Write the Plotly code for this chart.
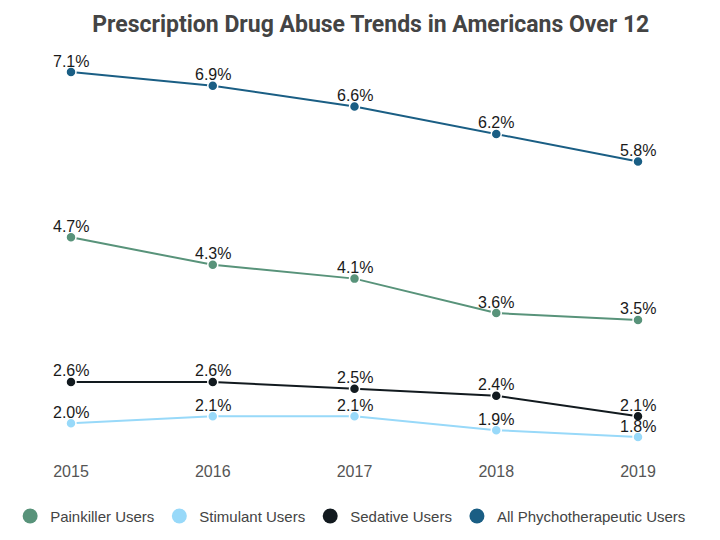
import plotly.graph_objects as go

years = [2015, 2016, 2017, 2018, 2019]
painkiller = [4.7, 4.3, 4.1, 3.6, 3.5]
stimulant = [2.0, 2.1, 2.1, 1.9, 1.8]
sedative = [2.6, 2.6, 2.5, 2.4, 2.1]
all_psy = [7.1, 6.9, 6.6, 6.2, 5.8]

series = [
    ("Painkiller Users", painkiller, "#58937a"),
    ("Stimulant Users", stimulant, "#98d9f9"),
    ("Sedative Users", sedative, "#121a1f"),
    ("All Phychotherapeutic Users", all_psy, "#1a5e84"),
]

FONT = "Liberation Sans, Arial, sans-serif"

fig = go.Figure()
annotations = []
for name, vals, color in series:
    fig.add_trace(go.Scatter(
        x=years, y=vals, name=name, mode="lines+markers",
        line=dict(color=color, width=2),
        marker=dict(color=color, size=10, line=dict(color="white", width=1.5)),
        showlegend=False, cliponaxis=False,
    ))
    for x, v in zip(years, vals):
        annotations.append(dict(
            x=x, y=v, text=f"{v:.1f}%", showarrow=False,
            xanchor="center", yanchor="middle", yshift=11,
            font=dict(family=FONT, size=16, color="#1a1a1a"),
        ))

for name, vals, color in series:
    fig.add_trace(go.Scatter(
        x=[None], y=[None], name=name, mode="markers",
        marker=dict(color=color, size=15),
        showlegend=True,
    ))

fig.update_layout(
    width=720, height=540,
    paper_bgcolor="white", plot_bgcolor="white",
    title=dict(text="<b>Prescription Drug Abuse Trends in Americans Over 12</b>",
               xref="container", x=0.515, xanchor="center", y=0.955, yanchor="middle",
               font=dict(family="Roboto, sans-serif", size=23, color="#444444")),
    margin=dict(l=0, r=0, t=55, b=85),
    showlegend=True,
    annotations=annotations,
    legend=dict(orientation="h", xref="container", yref="container",
                x=0.487, xanchor="center", y=0.044, yanchor="middle",
                font=dict(family=FONT, size=15, color="#444444"),
                itemsizing="trace", traceorder="normal", itemwidth=30,
                tracegroupgap=0),
    xaxis=dict(range=[2014.4991, 2019.5784], tickvals=years, ticktext=[str(y) for y in years],
               showgrid=False, zeroline=False, showline=False, ticks="",
               ticklabelstandoff=5,
               tickfont=dict(family=FONT, size=16, color="#555555")),
    yaxis=dict(range=[1.539, 7.347], visible=False, showgrid=False, zeroline=False),
)

fig.write_html("out.html", config={"displayModeBar": False},
               post_script="document.body.style.margin='0px';")
